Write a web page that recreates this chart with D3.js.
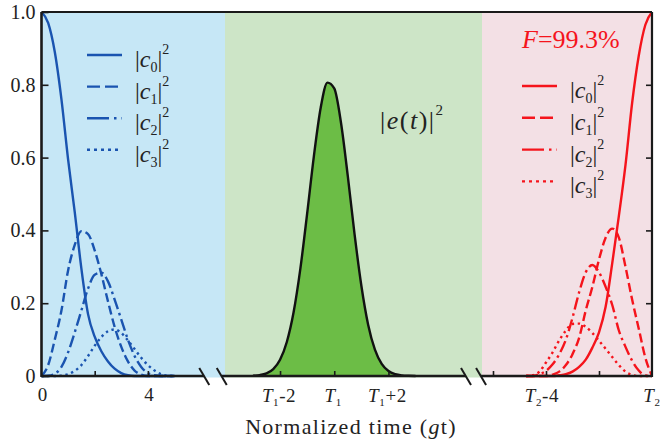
<!DOCTYPE html>
<html>
<head>
<meta charset="utf-8">
<script src="https://cdn.jsdelivr.net/npm/d3@7"></script>
<style>
  body { margin: 0; background: #fff; }
  svg { display: block; font-family: 'Liberation Serif', 'Times New Roman', serif; }
  .axis path { display: none; }
  .axis line { stroke: #1a1a1a; stroke-width: 1.6; }
</style>
</head>
<body>
<svg id="chart" width="660" height="445"></svg>
<script>
/*global d3 */

// left segment: t from 0
var leftTime = [0, 0.25, 0.5, 0.75, 1, 1.25, 1.5, 1.75, 2, 2.25, 2.5, 2.75, 3, 3.25, 3.5, 3.75, 4, 4.25, 4.5, 4.75, 5];
var leftC0 = [1, 0.97, 0.89, 0.76, 0.595, 0.45, 0.295, 0.17, 0.108, 0.068, 0.04, 0.02, 0.008, 0.002, 0, 0, 0, 0, 0, 0, 0];
var leftC1 = [0, 0.03, 0.10, 0.18, 0.29, 0.36, 0.398, 0.39, 0.345, 0.28, 0.205, 0.135, 0.08, 0.04, 0.015, 0.004, 0, 0, 0, 0, 0];
var leftC2 = [0, 0.0005, 0.006, 0.025, 0.065, 0.12, 0.18, 0.24, 0.278, 0.284, 0.26, 0.21, 0.155, 0.10, 0.055, 0.025, 0.008, 0.002, 0, 0, 0];
var leftC3 = [0, 0, 0, 0.001, 0.005, 0.014, 0.03, 0.055, 0.083, 0.107, 0.123, 0.128, 0.118, 0.098, 0.074, 0.05, 0.03, 0.015, 0.005, 0.001, 0];

// middle segment: offset from T1
var midTime = [-3, -2.75, -2.5, -2.25, -2, -1.75, -1.5, -1.25, -1, -0.75, -0.5, -0.25, 0, 0.25, 0.5, 0.75, 1, 1.25, 1.5, 1.75, 2, 2.25, 2.5, 2.75, 3];
var midE = [0.0008, 0.0025, 0.0073, 0.019, 0.0446, 0.0934, 0.175, 0.295, 0.446, 0.605, 0.737, 0.806, 0.790, 0.695, 0.549, 0.389, 0.248, 0.141, 0.0724, 0.0333, 0.0137, 0.0051, 0.0017, 0.0006, 0.0002];

// right segment: offset from T2
var rightTime = [-4.75, -4.5, -4.25, -4, -3.75, -3.5, -3.25, -3, -2.75, -2.5, -2.25, -2, -1.75, -1.5, -1.25, -1, -0.75, -0.5, -0.25, 0];
var rightC0 = [0, 0, 0, 0, 0, 0.002, 0.005, 0.012, 0.025, 0.045, 0.078, 0.12, 0.19, 0.31, 0.44, 0.58, 0.75, 0.88, 0.965, 1.0];
var rightC1 = [0, 0, 0, 0, 0.004, 0.012, 0.03, 0.06, 0.105, 0.18, 0.245, 0.32, 0.38, 0.405, 0.38, 0.30, 0.21, 0.13, 0.05, 0];
var rightC2 = [0, 0, 0.005, 0.014, 0.032, 0.06, 0.10, 0.16, 0.23, 0.285, 0.305, 0.285, 0.245, 0.195, 0.125, 0.08, 0.042, 0.015, 0.001, 0];
var rightC3 = [0, 0.002, 0.012, 0.037, 0.065, 0.098, 0.125, 0.143, 0.144, 0.135, 0.118, 0.097, 0.075, 0.052, 0.03, 0.012, 0.003, 0, 0, 0];

var yTicks = [0, 0.2, 0.4, 0.6, 0.8, 1.0];
var yTickLabels = ['0', '0.2', '0.4', '0.6', '0.8', '1.0'];
var leftTicks = [0, 2, 4];
var leftTickLabels = ['0', '', '4'];
var midTicks = [-2, 0, 2];
var midTickLabels = ['-2', '', '+2'];
var rightTicks = [-6, -4, -2, 0];
var rightTickLabels = [null, '-4', null, ''];
var levels = ['0', '1', '2', '3'];
var fidelity = '=99.3%';

var blue = '#1a54b0';
var red = '#f5141c';
var curveDash = [null, '9,4', '12,4,2.5,4', '2.4,3.6'];
var legendDash = [null, '13,5', '22,5,2.5,5', '3,4'];

var svg = d3.select('#chart');
var plotTop = 12, plotBottom = 376;

var y = d3.scaleLinear().domain([0, 1]).range([plotBottom, plotTop]);
var xLeft = d3.scaleLinear().domain([0, 6.9]).range([41.5, 225]);
var xMid = d3.scaleLinear().domain([-4.03, 5.45]).range([225, 482]);
var xRight = d3.scaleLinear().domain([-6.415, 0]).range([482, 652]);

// coloured panels
[[xLeft, '#c6e7f6'], [xMid, '#cde5c7'], [xRight, '#f3e0e5']].forEach(function (p) {
    var r = p[0].range();
    svg.append('rect')
        .attr('x', r[0]).attr('y', plotTop)
        .attr('width', r[1] - r[0]).attr('height', plotBottom - plotTop + 1.5)
        .attr('fill', p[1]);
});

// |e(t)|^2 pulse
var midPts = midTime.map(function (t, i) { return [t, midE[i]]; });
svg.append('path')
    .datum(midPts)
    .attr('fill', '#6cbd46')
    .attr('d', d3.area()
        .x(function (d) { return xMid(d[0]); })
        .y0(y(0))
        .y1(function (d) { return y(d[1]); })
        .curve(d3.curveMonotoneX));
svg.append('path')
    .datum(midPts)
    .attr('fill', 'none')
    .attr('stroke', '#111')
    .attr('stroke-width', 2.4)
    .attr('d', d3.line()
        .x(function (d) { return xMid(d[0]); })
        .y(function (d) { return y(d[1]); })
        .curve(d3.curveMonotoneX));

function drawSeries(xs, times, series, color) {
    series.forEach(function (vals, k) {
        var line = d3.line()
            .x(function (d, i) { return xs(times[i]); })
            .y(function (d) { return y(d); })
            .curve(d3.curveMonotoneX);
        svg.append('path')
            .datum(vals)
            .attr('fill', 'none')
            .attr('stroke', color)
            .attr('stroke-width', 2.4)
            .attr('stroke-dasharray', curveDash[k])
            .attr('d', line);
    });
}

drawSeries(xLeft, leftTime, [leftC0, leftC1, leftC2, leftC3], blue);
drawSeries(xRight, rightTime, [rightC0, rightC1, rightC2, rightC3], red);

// frame
var frame = svg.append('g').attr('stroke', '#1a1a1a').attr('fill', 'none');
frame.append('line').attr('x1', 41.5).attr('x2', 41.5).attr('y1', plotTop).attr('y2', plotBottom + 1).attr('stroke-width', 2.6);
frame.append('line').attr('x1', 41.5).attr('x2', 652).attr('y1', plotTop).attr('y2', plotTop).attr('stroke-width', 2.2);
frame.append('line').attr('x1', 652).attr('x2', 652).attr('y1', plotTop).attr('y2', plotBottom + 1).attr('stroke-width', 2.2);

// broken baseline
var segments = [[xLeft(0), xLeft(6.12)], [xMid(-4.15), xMid(4.86)], [xRight(-6.45), xRight(0)]];
segments.forEach(function (s) {
    frame.append('line').attr('x1', s[0]).attr('x2', s[1])
        .attr('y1', plotBottom).attr('y2', plotBottom).attr('stroke-width', 2.4);
});
var breaks = [xLeft(6.12), xMid(-4.15), xMid(4.86), xRight(-6.45)];
breaks.forEach(function (b) {
    frame.append('line')
        .attr('x1', b - 5).attr('y1', plotBottom - 8)
        .attr('x2', b + 5).attr('y2', plotBottom + 9)
        .attr('stroke-width', 2);
});

// y axes
svg.append('g')
    .classed('axis', true)
    .attr('transform', 'translate(41.5,0)')
    .call(d3.axisLeft(y).tickValues(yTicks).tickSizeInner(-7).tickSizeOuter(0).tickPadding(6)
        .tickFormat(function (d, i) { return yTickLabels[i]; }))
    .selectAll('text')
    .attr('x', -6)
    .style('font-family', 'Liberation Serif')
    .style('font-size', '20px')
    .style('fill', '#222');

svg.append('g')
    .classed('axis', true)
    .attr('transform', 'translate(652,0)')
    .call(d3.axisRight(y).tickValues(yTicks.slice(1, 5)).tickSizeInner(-6).tickSizeOuter(0).tickFormat(''));

// x ticks
function xTicks(scale, values) {
    svg.append('g')
        .classed('axis', true)
        .attr('transform', 'translate(0,' + plotBottom + ')')
        .call(d3.axisBottom(scale).tickValues(values).tickSizeInner(-5).tickSizeOuter(0).tickFormat(''));
}
xTicks(xLeft, leftTicks.slice(1));
xTicks(xMid, midTicks);
xTicks(xRight, rightTicks.slice(0, 3));

var labels = svg.append('g')
    .attr('fill', '#222')
    .attr('font-size', 19)
    .attr('text-anchor', 'middle');

leftTicks.forEach(function (t, i) {
    if (!leftTickLabels[i]) { return; }
    labels.append('text').attr('x', xLeft(t) + 1).attr('y', 401).text(leftTickLabels[i]);
});

function tLabel(x, sub, rest) {
    var txt = labels.append('text').attr('x', x).attr('y', 402).attr('letter-spacing', 0.6);
    txt.append('tspan').attr('font-style', 'italic').text('T');
    txt.append('tspan').attr('font-size', 11).attr('dy', 4).text(sub);
    if (rest) { txt.append('tspan').attr('dy', -4).text(rest); }
}
midTicks.forEach(function (t, i) { tLabel(xMid(t) - 1, '1', midTickLabels[i]); });
rightTicks.forEach(function (t, i) {
    if (rightTickLabels[i] === null) { return; }
    tLabel(xRight(t) - (t === 0 ? 0 : 4), '2', rightTickLabels[i]);
});

var title = labels.append('text')
    .attr('x', 351).attr('y', 434)
    .attr('font-size', 22)
    .attr('letter-spacing', 1.3);
title.append('tspan').text('Normalized time (');
title.append('tspan').attr('font-style', 'italic').text('g');
title.append('tspan').text('t)');

// |c_n|^2 label
function absLabel(g, x, yy, sym, sub, color) {
    var txt = g.append('text').attr('x', x).attr('y', yy)
        .attr('font-size', 24).attr('fill', color || '#222');
    txt.append('tspan').text('|');
    txt.append('tspan').attr('font-style', 'italic').text(sym);
    if (sub !== null) {
        txt.append('tspan').attr('font-size', 14).attr('dy', 5).text(sub);
        txt.append('tspan').attr('dy', -5).text('|');
    } else {
        txt.append('tspan').text('|');
    }
    txt.append('tspan').attr('font-size', 14).attr('dy', -13).text('2');
    return txt;
}

function legend(x0, y0, step, color) {
    var g = svg.append('g');
    levels.forEach(function (lv, i) {
        var yy = y0 + i * step;
        g.append('line')
            .attr('x1', x0).attr('x2', x0 + 35)
            .attr('y1', yy).attr('y2', yy)
            .attr('stroke', color).attr('stroke-width', 2.4)
            .attr('stroke-dasharray', legendDash[i]);
        absLabel(g, x0 + 48, yy + 12, 'c', lv, '#222');
    });
}
legend(87, 55, 31.6, blue);
legend(522, 86, 31.8, red);

// |e(t)|^2
var eLab = svg.append('text').attr('x', 380).attr('y', 129)
    .attr('font-size', 26).attr('letter-spacing', 1.5).attr('fill', '#222');
eLab.append('tspan').text('|');
eLab.append('tspan').attr('font-style', 'italic').text('e');
eLab.append('tspan').text('(');
eLab.append('tspan').attr('font-style', 'italic').text('t');
eLab.append('tspan').text(')|');
eLab.append('tspan').attr('font-size', 15).attr('dy', -14).text('2');

// fidelity
var fLab = svg.append('text').attr('x', 522).attr('y', 48).attr('font-size', 26).attr('fill', red);
fLab.append('tspan').attr('font-style', 'italic').text('F');
fLab.append('tspan').text(fidelity);
</script>
</body>
</html>
